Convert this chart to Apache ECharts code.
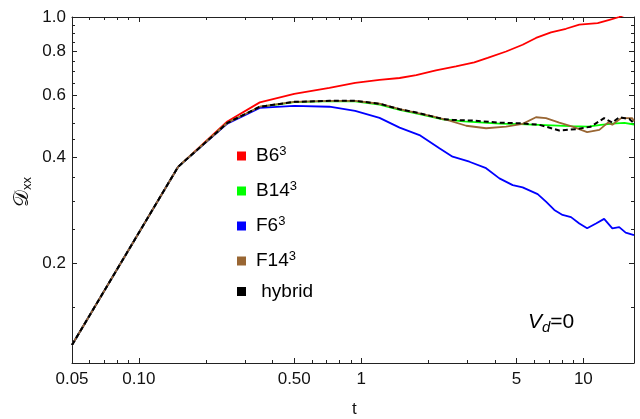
<!DOCTYPE html>
<html><head><meta charset="utf-8">
<script src="https://cdn.jsdelivr.net/npm/echarts@6/dist/echarts.min.js"></script>
<style>html,body{margin:0;padding:0;background:#fff}#c{width:640px;height:419px}</style>
</head><body><div id="c"></div>
<script>
// ---- data ----
const tB6  = [0.05, 0.15, 0.25, 0.35, 0.5, 0.72, 0.94, 1.21, 1.49, 1.77, 2.17, 2.67, 3.23, 3.71, 4.49, 5.33, 6.12, 7.15, 8.35, 9.59, 11.6, 13.1, 14.5, 16.9];
const dB6  = [0.117, 0.375, 0.505, 0.572, 0.605, 0.629, 0.650, 0.663, 0.671, 0.684, 0.705, 0.724, 0.743, 0.765, 0.798, 0.834, 0.872, 0.904, 0.926, 0.951, 0.961, 0.982, 1.0, 1.04];

const tB14 = [0.05, 0.15, 0.25, 0.35, 0.5, 0.72, 0.94, 1.21, 1.49, 1.83, 2.33, 2.9, 4.19, 5.15, 6.34, 8.7, 10.5, 12.0, 13.5, 15.3, 16.9];
const dB14 = [0.117, 0.375, 0.50, 0.555, 0.573, 0.577, 0.576, 0.564, 0.545, 0.530, 0.512, 0.505, 0.498, 0.496, 0.494, 0.490, 0.488, 0.494, 0.498, 0.500, 0.495];

const tF6  = [0.05, 0.15, 0.25, 0.35, 0.5, 0.72, 0.94, 1.21, 1.49, 1.83, 2.25, 2.58, 3.07, 3.65, 4.19, 4.81, 5.33, 6.23, 6.79, 7.40, 8.06, 8.80, 9.59, 10.4, 11.4, 12.4, 13.5, 14.5, 15.5, 16.9];
const dF6  = [0.117, 0.375, 0.498, 0.552, 0.559, 0.556, 0.541, 0.517, 0.485, 0.462, 0.424, 0.401, 0.388, 0.372, 0.348, 0.333, 0.328, 0.314, 0.299, 0.283, 0.274, 0.270, 0.259, 0.251, 0.259, 0.267, 0.251, 0.253, 0.244, 0.240];

const tF14 = [0.05, 0.15, 0.25, 0.35, 0.5, 0.72, 0.94, 1.21, 1.49, 2.10, 2.50, 2.97, 3.65, 4.49, 5.33, 6.12, 6.79, 7.79, 8.94, 10.4, 11.8, 12.9, 13.5, 14.8, 16.6, 16.9];
const dF14 = [0.117, 0.375, 0.50, 0.556, 0.574, 0.578, 0.578, 0.567, 0.547, 0.522, 0.508, 0.491, 0.483, 0.488, 0.497, 0.519, 0.516, 0.501, 0.488, 0.471, 0.478, 0.501, 0.494, 0.516, 0.516, 0.505];

const tHyb = [0.05, 0.15, 0.25, 0.35, 0.5, 0.72, 0.94, 1.21, 1.49, 1.83, 2.33, 2.58, 3.18, 4.19, 5.15, 6.34, 7.79, 9.26, 10.8, 12.4, 13.5, 14.5, 16.1, 16.9];
const dHyb = [0.117, 0.375, 0.50, 0.556, 0.574, 0.578, 0.578, 0.567, 0.547, 0.533, 0.513, 0.510, 0.508, 0.501, 0.499, 0.494, 0.476, 0.480, 0.488, 0.516, 0.501, 0.519, 0.513, 0.499];

const seriesNames = ['B6', 'B14', 'F6', 'F14', 'hybrid'];

const xMajorTicks = [0.05, 0.1, 0.5, 1, 5, 10];
const xTickLabels = ['0.05', '0.10', '0.50', '1', '5', '10'];
const xMinorTicks = [0.06, 0.07, 0.08, 0.09, 0.2, 0.3, 0.4, 0.6, 0.7, 0.8, 0.9, 2, 3, 4, 6, 7, 8, 9];
const yMajorTicks = [0.2, 0.4, 0.6, 0.8, 1.0];
const yTickLabels = ['0.2', '0.4', '0.6', '0.8', '1.0'];
const yMinorTicks = [0.15, 0.25, 0.3, 0.35, 0.45, 0.5, 0.55, 0.65, 0.7, 0.75, 0.85, 0.9, 0.95];

// ---- chart ----
const X_MIN = 0.05, X_MAX = 16.9, Y_MIN = 0.104, Y_MAX = 1.0;
const FONT = 'Liberation Sans, Arial, sans-serif';
const AX = '#222';

function lookup(vals, labels, v) {
  for (let i = 0; i < vals.length; i++) if (Math.abs(vals[i] - v) / vals[i] < 1e-6) return labels[i];
  return '';
}
function pairs(t, d) { return t.map((x, i) => [x, d[i]]); }

function axis(dim, pos, ticks, len, withLabels, withLine) {
  const isX = dim === 'x';
  return {
    type: 'log', logBase: 10, gridIndex: 0, position: pos, offset: 0,
    min: isX ? X_MIN : Y_MIN, max: isX ? X_MAX : Y_MAX,
    axisLine: { show: withLine, lineStyle: { color: AX, width: 1 } },
    axisTick: { show: true, inside: true, length: len, customValues: ticks, lineStyle: { color: AX, width: 1 } },
    axisLabel: {
      show: withLabels, customValues: ticks, margin: isX ? 8 : 6,
      fontSize: 17, color: '#111', fontFamily: FONT,
      formatter: v => isX ? lookup(xMajorTicks, xTickLabels, v) : lookup(yMajorTicks, yTickLabels, v)
    },
    splitLine: { show: false }, minorTick: { show: false }, minorSplitLine: { show: false }
  };
}

const colors = { B6: '#ff0000', B14: '#00ff00', F6: '#0000ff', F14: '#996633', hybrid: '#000000' };
const legendRows = [156, 191, 226, 261, 293];

function mkLegend(name, i) {
  return {
    show: true, left: 237, top: legendRows[i] - 11, padding: 0, orient: 'vertical',
    icon: 'rect', itemWidth: 9, itemHeight: 9, itemGap: 0, selectedMode: false,
    data: [{ name: name, itemStyle: { color: colors[name] } }],
    formatter: n => n === 'hybrid' ? '{b| hybrid}' : '{b|' + n + '}{s|3}',
    textStyle: {
      padding: [0, 0, 0, 5],
      rich: {
        b: { fontSize: 19, lineHeight: 22, fontFamily: FONT, color: '#000' },
        s: { fontSize: 13, lineHeight: 13, fontFamily: FONT, color: '#000', verticalAlign: 'top' }
      }
    }
  };
}

const dataSets = { B6: pairs(tB6, dB6), B14: pairs(tB14, dB14), F6: pairs(tF6, dF6), F14: pairs(tF14, dF14), hybrid: pairs(tHyb, dHyb) };

const chart = echarts.init(document.getElementById('c'), null, { renderer: 'canvas' });
chart.setOption({
  animation: false,
  backgroundColor: '#fff',
  grid: { left: 72, right: 6, top: 17, bottom: 56, containLabel: false },
  xAxis: [
    axis('x', 'bottom', xMajorTicks, 5, true, true),
    axis('x', 'bottom', xMinorTicks, 3, false, false),
    axis('x', 'top', xMajorTicks, 5, false, true),
    axis('x', 'top', xMinorTicks, 3, false, false)
  ],
  yAxis: [
    axis('y', 'left', yMajorTicks, 5, true, true),
    axis('y', 'left', yMinorTicks, 3, false, false),
    axis('y', 'right', yMajorTicks, 5, false, true),
    axis('y', 'right', yMinorTicks, 3, false, false)
  ],
  legend: seriesNames.map(mkLegend),
  series: seriesNames.map(n => ({
    name: n, type: 'line', xAxisIndex: 0, yAxisIndex: 0,
    data: dataSets[n], showSymbol: false, symbol: 'none', smooth: false, clip: true,
    itemStyle: { color: colors[n] },
    lineStyle: { color: colors[n], width: n === 'hybrid' ? 2 : 1.8, type: n === 'hybrid' ? [5, 3] : 'solid' },
    z: n === 'hybrid' ? 5 : 2
  })),
  graphic: [
    { type: 'text', left: 352, top: 401, style: { text: 't', fontSize: 17, fontFamily: FONT, fill: '#111' } },
    { type: 'text', x: 23, y: 192, rotation: Math.PI / 2,
      style: { text: '{D|𝒟}{s|xx}', align: 'center', verticalAlign: 'middle',
        rich: { D: { fontSize: 21, fontFamily: 'DejaVu Serif, DejaVu Sans, serif', fill: '#111' },
                s: { fontSize: 13, fontFamily: FONT, fill: '#111', verticalAlign: 'bottom' } } } },
    { type: 'text', x: 528, y: 322,
      style: { text: '{v|V}{d|d}{e|=0}', verticalAlign: 'middle',
        rich: { v: { fontSize: 21, fontStyle: 'italic', fontFamily: FONT, fill: '#000', lineHeight: 26 },
                d: { fontSize: 15, fontStyle: 'italic', fontFamily: FONT, fill: '#000', verticalAlign: 'bottom', lineHeight: 15 },
                e: { fontSize: 21, fontFamily: FONT, fill: '#000', lineHeight: 26 } } } }
  ]
});
</script></body></html>
